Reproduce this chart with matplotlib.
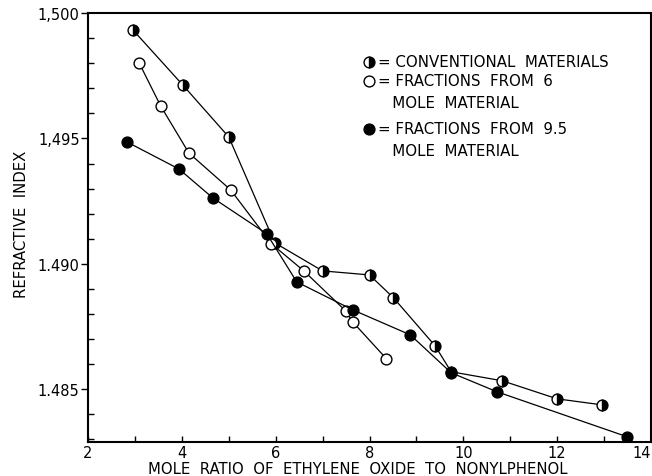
import matplotlib
matplotlib.use('Agg')
import matplotlib.pyplot as plt
from matplotlib.ticker import MultipleLocator

plt.rcParams['font.family'] = 'DejaVu Sans'

## ====== data ====== ##
conv_x = [2.96, 4.02, 5.0, 5.98, 7.0, 8.0, 8.51, 9.4, 9.74, 10.83, 12.0, 12.96]
conv_y = [1.49932, 1.49713, 1.49506, 1.49084, 1.48972, 1.48956, 1.48865,
          1.48673, 1.48570, 1.48534, 1.48462, 1.48438]

six_x = [3.09, 3.55, 4.15, 5.04, 5.91, 6.60, 7.49, 7.64, 8.36]
six_y = [1.49801, 1.49629, 1.49442, 1.49295, 1.49080, 1.48972, 1.48813,
         1.48769, 1.48622]

nine_x = [2.83, 3.94, 4.66, 5.81, 6.45, 7.64, 8.87, 9.74, 10.72, 13.49]
nine_y = [1.49486, 1.49378, 1.49263, 1.49120, 1.48928, 1.48817, 1.48717,
          1.48566, 1.48490, 1.48311]

xticks = [2, 4, 6, 8, 10, 12, 14]
yticks = [1.485, 1.490, 1.495, 1.500]
ytick_labels = ['1.485', '1.490', '1,495', '1,500']

legend_labels = ['CONVENTIONAL  MATERIALS',
                 'FRACTIONS  FROM  6\n   MOLE  MATERIAL',
                 'FRACTIONS  FROM  9.5\n   MOLE  MATERIAL']

## ====== figure ====== ##
fig = plt.figure(figsize=(6.52, 4.77), dpi=100)
ax = fig.add_axes([88 / 652, 34 / 477, 563 / 652, 429 / 477])

ms = 7.8
lw = 0.9
conv_style = dict(marker='o', color='k', lw=lw, ms=ms, fillstyle='right',
                  markerfacecolor='k', markerfacecoloralt='white',
                  markeredgecolor='k', markeredgewidth=1.0)
six_style = dict(marker='o', color='k', lw=lw, ms=ms, markerfacecolor='white',
                 markeredgecolor='k', markeredgewidth=1.0)
nine_style = dict(marker='o', color='k', lw=lw, ms=ms, markerfacecolor='k',
                  markeredgecolor='k')

ax.plot(conv_x, conv_y, **conv_style)
ax.plot(six_x, six_y, **six_style)
ax.plot(nine_x, nine_y, **nine_style)

ax.set_xlim(2, 14)
ax.set_ylim(1.4829, 1.500)

ax.set_xticks(xticks)
ax.set_xticklabels([str(t) for t in xticks])
ax.get_xticklabels()[-1].set_ha('right')
ax.xaxis.set_minor_locator(MultipleLocator(1))
ax.set_yticks(yticks)
ax.set_yticklabels(ytick_labels)
ax.yaxis.set_minor_locator(MultipleLocator(0.001))

ax.tick_params(axis='x', which='both', direction='in', length=4, width=1.0,
               labelsize=10.5, pad=2)
ax.tick_params(axis='y', which='major', direction='out', length=5, width=1.0,
               labelsize=10.5, pad=1)
ax.tick_params(axis='y', which='minor', direction='in', length=4, width=1.0)

for sp in ax.spines.values():
    sp.set_linewidth(1.5)

ax.set_xlabel('MOLE  RATIO  OF  ETHYLENE  OXIDE  TO  NONYLPHENOL',
              fontsize=10.7, labelpad=1)
ax.xaxis.set_label_coords(0.48, -0.045)
ax.xaxis.label.set_va('top')
ax.set_ylabel('REFRACTIVE  INDEX', fontsize=10.7)
ax.yaxis.set_label_coords(-0.105, 0.51)

# hand-drawn style legend
styles = [conv_style, six_style, nine_style]
ys = [(443 - 63) / 429, (443 - 82) / 429, (443 - 130) / 429]
for st, yy, lab in zip(styles, ys, legend_labels):
    s = dict(st)
    s.pop('lw')
    ax.plot([0.499], [yy], transform=ax.transAxes, ls='none', clip_on=False, **s)
    ax.text(0.515, yy + 0.018, '= ' + lab, transform=ax.transAxes,
            fontsize=10.8, va='top', ha='left', linespacing=1.6)

fig.savefig('out.png', dpi=100)
